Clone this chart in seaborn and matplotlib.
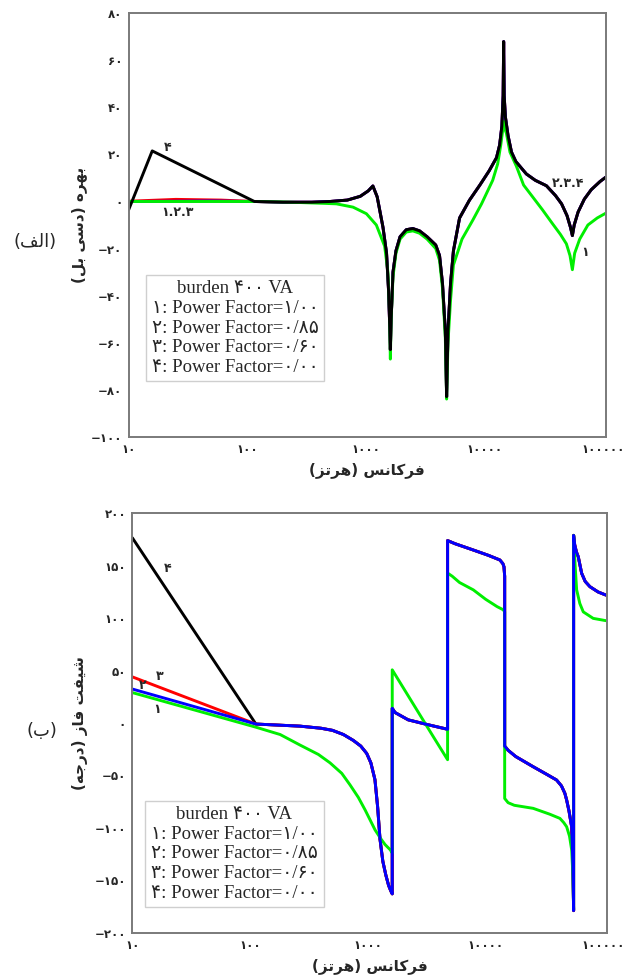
import matplotlib
matplotlib.use("Agg")
import matplotlib.pyplot as plt
import pandas as pd
import seaborn as sns
from matplotlib.ticker import NullFormatter, LogLocator

# ---------------------------------------------------------------- data
# power factor labels for the four burden cases
pf_values = ["۱/۰۰", "۰/۸۵", "۰/۶۰", "۰/۰۰"]
curve_ids = ["۱", "۲", "۳", "۴"]
curve_colors = ["#00ee00", "#0000ff", "#ff0000", "#000000"]

# gain (dB) -- power factor 1.00
gain_f1 = [10, 50, 115, 200, 300, 450, 566, 782, 1014, 1230, 1445, 1540, 1590,
           1615, 1640, 1700, 1800, 1950, 2200, 2500, 2850, 3300, 3900, 4200,
           4450, 4700, 4820, 4950, 5200, 5500, 6500, 8000, 9500, 11800, 13000,
           13800, 14300, 14600, 14900, 15400, 16500, 18700, 21500, 25600, 31000,
           37800, 44000, 49400, 53000, 55500, 58000, 64000, 75000, 90000, 106000]
gain_db1 = [0, 0, 0, -0.2, -0.5, -0.8, -1, -2.4, -5.2, -10, -19, -30, -48,
            -67, -50, -32, -22, -16, -13, -12.5, -13.5, -16, -20, -25,
            -37, -58, -84, -60, -42, -27, -16, -8, -1, 9, 16,
            24, 30, 34, 31, 29, 21, 15, 7, 2, -3.5,
            -9.5, -14, -18, -23, -29, -22, -16, -10, -7, -5]

# gain below 115 Hz for power factors 0.85 / 0.60 / 0.00
gain_low_f2, gain_low_db2 = [10, 50], [0, 0.2]
gain_low_f3, gain_low_db3 = [10, 25, 60], [0.1, 0.9, 0.6]
gain_low_f4, gain_low_db4 = [10, 15.8], [-3.5, 21.5]

# gain above 115 Hz, common to power factors 0.85 / 0.60 / 0.00
gain_high_f = [115, 200, 350, 500, 700, 900, 1050, 1150, 1250, 1400, 1500, 1560,
               1600, 1615, 1640, 1700, 1800, 1950, 2200, 2500, 2850, 3300, 3900,
               4200, 4450, 4700, 4820, 4950, 5200, 5500, 6200, 7500, 9200, 11000,
               12700, 13500, 14100, 14450, 14600, 14750, 15100, 15900, 17000,
               18500, 22700, 27000, 33500, 40000, 45000, 50000, 53500, 55500,
               57500, 62000, 70000, 80000, 95000, 106000]
gain_high_db = [0, -0.3, -0.3, 0, 0.6, 2.2, 4.5, 6.6, 2, -11, -22, -38,
                -55, -63, -50, -30, -21, -15, -12, -11.5, -12.5, -15, -18.5,
                -23, -35, -55, -83, -55, -35, -21, -7, 0.5, 7, 13,
                18.6, 24, 32, 45, 68, 45, 36, 28, 21,
                17, 11.7, 9, 6.7, 2.5, -1, -6, -11, -14.5,
                -10, -4.5, 1, 5, 8.5, 10.3]

# phase (degrees) -- power factor 1.00
phase_f1 = [10, 112, 180, 265, 380, 477, 600, 705, 830, 948, 1050, 1151, 1280,
            1400, 1550, 1610, 1610, 3590, 4750,
            4750, 5200, 6000, 7850, 10000, 12500, 14100, 14500,
            14500, 15500, 17500, 25300, 35000, 42700, 46000, 48700, 51500,
            53700, 55000, 55800,
            55800, 57500, 59200, 63000, 67400, 81800, 105000]
phase_deg1 = [29, -4, -11, -21, -30, -38, -48, -59, -71, -83, -93, -102, -110,
              -116, -121, -124, 50.7, -13, -35,
              143, 140, 134, 127, 118, 111, 108, 106,
              -72, -76, -78.5, -81.4, -87, -91, -95, -99, -108,
              -121, -145, -178,
              179, 150, 127, 114, 106, 99.8, 97.6]

# phase at 10 Hz for power factors 0.85 / 0.60 / 0.00
phase_start_f = 10
phase_start_deg = [32.4, 44, 176.7]

# phase above 112 Hz, common to power factors 0.85 / 0.60 / 0.00
phase_high_f = [112, 265, 400, 500, 620, 752, 870, 977, 1060, 1148, 1210, 1268,
                1340, 1420, 1500, 1563, 1610,
                1610, 1700, 2200, 3200, 4750,
                4750, 5500, 7850, 10500, 13200, 14000, 14300, 14500,
                14500, 15500, 18000, 25300, 33000, 40000, 44000, 47000, 48700,
                51000, 53700, 55000, 55800,
                55800, 57000, 59000, 61100, 65300, 70000, 76800, 90000, 105000]
phase_high_deg = [-1, -3, -5, -7, -11, -16.6, -22, -29, -38, -54, -80, -111,
                  -132, -145, -155, -160, -163,
                  14, 10, 3, -1.5, -6,
                  174, 171, 165, 160, 155.5, 152, 149, 140,
                  -22, -26, -32, -41.7, -49, -54.4, -60, -67, -73.5,
                  -84, -99, -135, -179,
                  179, 170, 163, 158.6, 142.8, 135, 130, 125, 122]

gain_ticks = list(range(-100, 81, 20))
phase_ticks = list(range(-200, 201, 50))
freq_ticks = [10, 100, 1000, 10000, 100000]

# ---------------------------------------------------------------- text helpers
_FA_DIGITS = str.maketrans("0123456789", "۰۱۲۳۴۵۶۷۸۹")

# isolated, final, initial, medial presentation forms
_FORMS = {
    "ا": ("\uFE8D", "\uFE8E", None, None),
    "ب": ("\uFE8F", "\uFE90", "\uFE91", "\uFE92"),
    "ت": ("\uFE95", "\uFE96", "\uFE97", "\uFE98"),
    "ج": ("\uFE9D", "\uFE9E", "\uFE9F", "\uFEA0"),
    "د": ("\uFEA9", "\uFEAA", None, None),
    "ر": ("\uFEAD", "\uFEAE", None, None),
    "ز": ("\uFEAF", "\uFEB0", None, None),
    "س": ("\uFEB1", "\uFEB2", "\uFEB3", "\uFEB4"),
    "ش": ("\uFEB5", "\uFEB6", "\uFEB7", "\uFEB8"),
    "ف": ("\uFED1", "\uFED2", "\uFED3", "\uFED4"),
    "ل": ("\uFEDD", "\uFEDE", "\uFEDF", "\uFEE0"),
    "ن": ("\uFEE5", "\uFEE6", "\uFEE7", "\uFEE8"),
    "ه": ("\uFEE9", "\uFEEA", "\uFEEB", "\uFEEC"),
    "ی": ("\uFBFC", "\uFBFD", "\uFBFE", "\uFBFF"),
    "ک": ("\uFB8E", "\uFB8F", "\uFB90", "\uFB91"),
}


def rtl(text):
    """Join Persian letters and return the string in display order."""
    out = []
    for i, c in enumerate(text):
        if c not in _FORMS:
            out.append(c)
            continue
        iso, fin, ini, med = _FORMS[c]
        prev = text[i - 1] if i > 0 else ""
        nxt = text[i + 1] if i + 1 < len(text) else ""
        join_prev = prev in _FORMS and _FORMS[prev][2] is not None
        join_next = ini is not None and nxt in _FORMS
        if join_prev and join_next:
            out.append(med)
        elif join_prev:
            out.append(fin)
        elif join_next:
            out.append(ini)
        else:
            out.append(iso)
    mirror = {"(": ")", ")": "("}
    return "".join(mirror.get(c, c) for c in reversed(out))


def fa_num(v):
    s = str(abs(v)).translate(_FA_DIGITS)
    return ("\u2212" + s) if v < 0 else s


# ---------------------------------------------------------------- style
sns.set_style("white")
plt.rcParams["font.family"] = ["DejaVu Sans"]

fig = plt.figure(figsize=(6.33, 9.8), dpi=100)
ax_g = fig.add_axes([0.2033, 0.5544, 0.7540, 0.4320])
ax_p = fig.add_axes([0.2090, 0.0483, 0.7495, 0.4279])

LW = 2.1
SPINE = "#7a7a7a"

legend_text = "burden ۴۰۰ VA\n" + "\n".join(
    f"{cid}: Power Factor={pf}" for cid, pf in zip(curve_ids, pf_values))


def draw(ax, f, v, color):
    df = pd.DataFrame({"freq": f, "value": v})
    sns.lineplot(data=df, x="freq", y="value", ax=ax, color=color,
                 estimator=None, sort=False, linewidth=LW, legend=False)


# gain panel: curves 3, 2, 1, then 4 on top
draw(ax_g, gain_low_f3 + gain_high_f, gain_low_db3 + gain_high_db, curve_colors[2])
draw(ax_g, gain_low_f2 + gain_high_f, gain_low_db2 + gain_high_db, curve_colors[1])
draw(ax_g, gain_f1, gain_db1, curve_colors[0])
draw(ax_g, gain_low_f4 + gain_high_f, gain_low_db4 + gain_high_db, curve_colors[3])

# phase panel: curves 4, 3, 1, then 2 on top
draw(ax_p, [phase_start_f] + phase_high_f, [phase_start_deg[2]] + phase_high_deg, curve_colors[3])
draw(ax_p, [phase_start_f] + phase_high_f, [phase_start_deg[1]] + phase_high_deg, curve_colors[2])
draw(ax_p, phase_f1, phase_deg1, curve_colors[0])
draw(ax_p, [phase_start_f] + phase_high_f, [phase_start_deg[0]] + phase_high_deg, curve_colors[1])

for ax, yt, ylim in ((ax_g, gain_ticks, (-100, 80)), (ax_p, phase_ticks, (-200, 200))):
    ax.set_xscale("log")
    ax.set_xlim(10, 1.066e5)
    ax.set_ylim(*ylim)
    ax.set_xticks(freq_ticks, [fa_num(t) for t in freq_ticks])
    ax.xaxis.set_minor_locator(LogLocator(base=10, subs=range(2, 10)))
    ax.xaxis.set_minor_formatter(NullFormatter())
    ax.set_yticks(yt, [fa_num(t) for t in yt])
    ax.tick_params(axis="both", which="major", direction="inout", length=5,
                   width=1, color=SPINE, labelsize=8.5, pad=2)
    ax.tick_params(axis="x", which="minor", direction="inout", length=4,
                   width=1, color=SPINE)
    for lbl in ax.get_xticklabels() + ax.get_yticklabels():
        lbl.set_fontweight("bold")
    for sp in ax.spines.values():
        sp.set_color(SPINE)
        sp.set_linewidth(1.4)
    ax.set_xlabel(rtl("فرکانس (هرتز)"), fontsize=11, fontweight="bold")
    ax.xaxis.set_label_coords(0.5, -0.060)
    ax.xaxis.label.set_va("top")

ax_g.set_ylabel(rtl("بهره (دسی بل)"), fontsize=11, fontweight="bold")
ax_g.yaxis.set_label_coords(-0.087, 0.5)
ax_p.set_ylabel(rtl("شیفت فاز (درجه)"), fontsize=11, fontweight="bold")
ax_p.yaxis.set_label_coords(-0.093, 0.5)

# legend boxes
box = dict(boxstyle="square,pad=0.3", facecolor="white", edgecolor="#cfcfcf", linewidth=1)
for ax, pos in ((ax_g, (0.2227, 0.2567)), (ax_p, (0.2154, 0.1876))):
    ax.text(*pos, legend_text, transform=ax.transAxes, ha="center", va="center",
            fontsize=13.5, family=["Liberation Serif", "DejaVu Sans"],
            linespacing=1.2, bbox=box)

# curve numbers
num_kw = dict(fontsize=9, fontweight="bold", ha="center", va="center")
ax_g.text(21.5, 23.1, "۴", **num_kw)
ax_g.text(26, -4.5, "۱.۲.۳", **num_kw)
ax_g.text(50900, 7.8, "۲.۳.۴", **num_kw)
ax_g.text(71000, -21.9, "۱", **num_kw)
ax_p.text(20.1, 147.8, "۴", **num_kw)
ax_p.text(17.2, 44, "۳", **num_kw)
ax_p.text(12.3, 35.3, "۲", **num_kw)
ax_p.text(16.1, 12.4, "۱", **num_kw)

# panel captions
fig.text(0.0553, 0.753, rtl("(الف)"), fontsize=13, ha="center", va="center")
fig.text(0.067, 0.254, rtl("(ب)"), fontsize=13, ha="center", va="center")

fig.savefig("out.png", dpi=100, facecolor="white")
